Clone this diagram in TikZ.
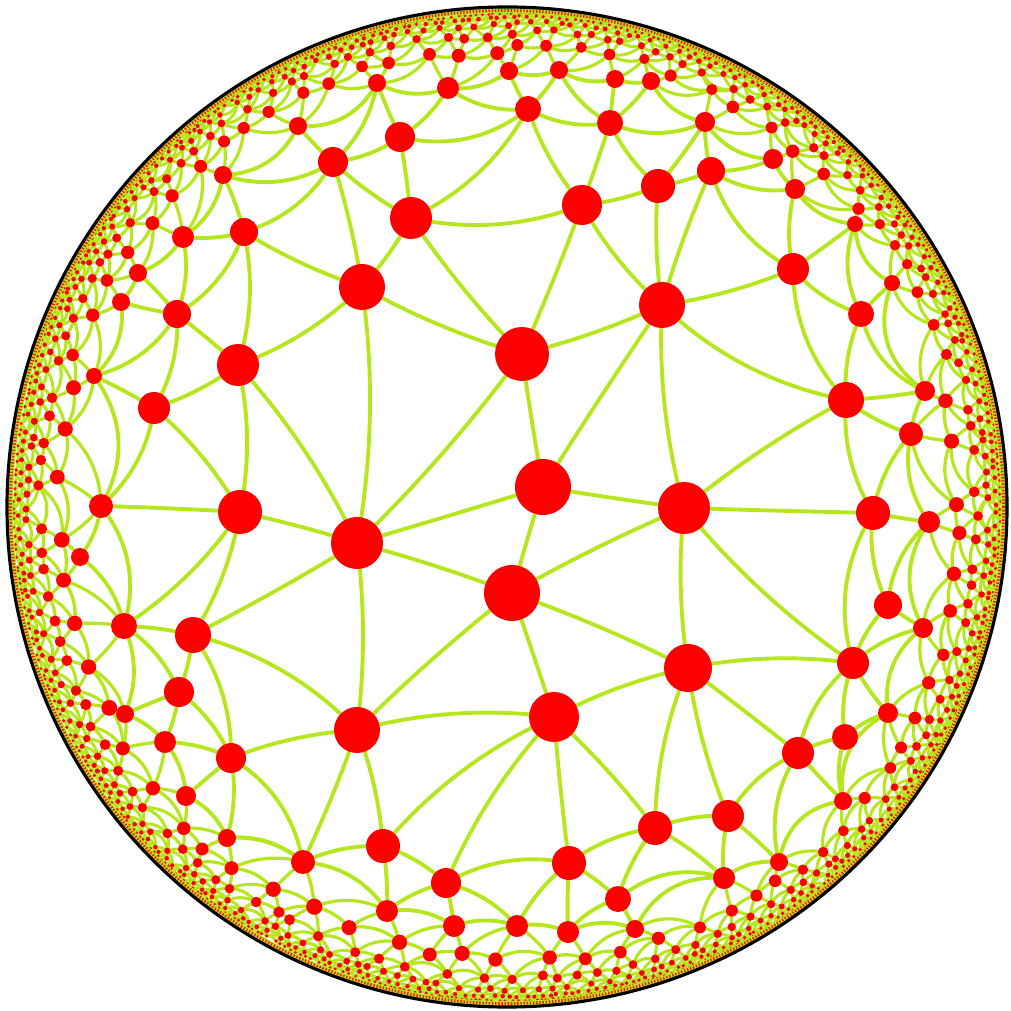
\documentclass[tikz,border=0pt]{standalone}
\usepackage{tikz}
\definecolor{lime}{RGB}{182,230,30}
\definecolor{dotred}{RGB}{255,0,0}
\tikzset{
  ball/.style={circle, fill=dotred, draw=none, inner sep=0pt},
  link/.style={draw=lime, line width=1.1pt}
}
\newcommand{\ringstep}{0.5}
\newcommand{\edgelen}{0.9}
\newcount\kidno
\newcount\vcount

% a point of the disk: x, y, angle, distance from the centre, dot size
\newcommand{\storept}[4]{%
  \expandafter\xdef\csname X@#1\endcsname{\fpeval{round(#2,6)}}%
  \expandafter\xdef\csname Y@#1\endcsname{\fpeval{round(#3,6)}}%
  \expandafter\xdef\csname T@#1\endcsname{\fpeval{atand(#3,#2)+360*(atand(#3,#2)<0)}}%
  \expandafter\xdef\csname D@#1\endcsname{\fpeval{ln((1+sqrt((#2)^2+(#3)^2))/(1-sqrt((#2)^2+(#3)^2)))}}%
  \expandafter\xdef\csname S@#1\endcsname{\fpeval{round(#4,4)}}%
  \global\advance\vcount by 1
  \expandafter\xdef\csname V@\the\vcount\endcsname{#1}%
  \coordinate (#1) at (\csname X@#1\endcsname,\csname Y@#1\endcsname);
}
% a vertex given in pixels of the 1010 wide picture
\newcommand{\hnode}[4]{\storept{#1}{(#2-507)/500}{(507-#3)/500}{#4*0.2}}
% geodesic of the Poincare disk between two named vertices
\newcommand{\geo}[3][]{%
  \edef\gxa{\csname X@#2\endcsname}\edef\gya{\csname Y@#2\endcsname}%
  \edef\gxb{\csname X@#3\endcsname}\edef\gyb{\csname Y@#3\endcsname}%
  \edef\gdt{\fpeval{(\gxa)*(\gyb)-(\gya)*(\gxb)}}%
  \edef\gaa{\fpeval{(1+(\gxa)^2+(\gya)^2)/2}}%
  \edef\gab{\fpeval{(1+(\gxb)^2+(\gyb)^2)/2}}%
  \edef\gwx{\fpeval{((\gxa)+(\gxb))/2*(\gdt)-((\gaa)*(\gyb)-(\gab)*(\gya))}}%
  \edef\gwy{\fpeval{((\gya)+(\gyb))/2*(\gdt)-((\gxa)*(\gab)-(\gxb)*(\gaa))}}%
  \edef\gff{\fpeval{(((\gxa)-(\gxb))^2+((\gya)-(\gyb))^2)/4*(\gdt)/((\gwx)^2+(\gwy)^2)}}%
  \edef\gkx{\fpeval{((\gxa)+(\gxb))/2+(\gff)*(\gwx)}}%
  \edef\gky{\fpeval{((\gya)+(\gyb))/2+(\gff)*(\gwy)}}%
  \edef\gca{\fpeval{round(((\gxa)+2*(\gkx))/3,5)}}%
  \edef\gcb{\fpeval{round(((\gya)+2*(\gky))/3,5)}}%
  \edef\gcc{\fpeval{round(((\gxb)+2*(\gkx))/3,5)}}%
  \edef\gcd{\fpeval{round(((\gyb)+2*(\gky))/3,5)}}%
  \draw[link,#1] (#2) .. controls (\gca,\gcb) and (\gcc,\gcd) .. (#3);
}
% next ring of vertices outside ring #1
\newcommand{\grow}[1]{%
  \edef\rk{\the\numexpr#1+1\relax}%
  \edef\last{\the\numexpr\csname N@#1\endcsname-1\relax}%
  \global\kidno=0
  \foreach \gi in {0,...,\last}{%
    \edef\nx{\ifnum\gi=\last\space 0\else\the\numexpr\gi+1\relax\fi}%
    \edef\pa{\csname R@#1@\gi\endcsname}%
    \edef\pb{\csname R@#1@\nx\endcsname}%
    \edef\ta{\csname T@\pa\endcsname}%
    \edef\gap{\fpeval{(\csname T@\pb\endcsname)-(\ta)}}%
    \edef\gap{\fpeval{(\gap)-360*floor((\gap)/360)}}%
    \edef\dc{\fpeval{((\csname D@\pa\endcsname)+(\csname D@\pb\endcsname))/2+\ringstep}}%
    \edef\mm{\fpeval{max(1,min(3,round((exp(\dc)-exp(-(\dc)))/2*(\gap)*pi/180/\edgelen)))}}%
    \foreach \gj in {1,...,\mm}{%
      \edef\cn{g\rk-\the\kidno}%
      \edef\hz{\fpeval{sin(\rk*7.13+\the\kidno*12.9898)*43758.5453}}%
      \edef\ha{\fpeval{(\hz)-floor(\hz)}}%
      \edef\hz{\fpeval{sin(\rk*3.71+\the\kidno*78.233)*24634.6345}}%
      \edef\hb{\fpeval{(\hz)-floor(\hz)}}%
      \edef\tc{\fpeval{(\ta)+(\gap)*(\gj-0.5+0.5*((\ha)-0.5))/\mm}}%
      \edef\dk{\fpeval{(\dc)+0.16*((\hb)-0.5)}}%
      \edef\rr{\fpeval{(exp(\dk)-1)/(exp(\dk)+1)}}%
      \storept{\cn}{(\rr)*cosd(\tc)}{(\rr)*sind(\tc)}{5.6*(1-(\rr)^2)^0.8}%
      \edef\lw{\fpeval{1.1*(1-(\rr)^2)^0.1}pt}%
      \xdef\lastlw{\lw}%
      \ifnum\numexpr2*\gj-2\relax<\mm\relax \geo[line width=\lw]{\pa}{\cn}\fi
      \ifnum\numexpr2*\gj\relax<\mm\relax\else \geo[line width=\lw]{\pb}{\cn}\fi
      \ifnum\kidno>0 \edef\prv{g\rk-\the\numexpr\kidno-1\relax}\geo[line width=\lw]{\prv}{\cn}\fi
      \expandafter\xdef\csname R@\rk @\the\kidno\endcsname{\cn}%
      \global\advance\kidno by 1
    }%
  }%
  \expandafter\xdef\csname N@\rk\endcsname{\the\kidno}%
  \edef\prv{g\rk-\the\numexpr\kidno-1\relax}%
  \geo[line width=\lastlw]{g\rk-0}{\prv}%
}

\begin{document}
\begin{tikzpicture}[x=5cm, y=5cm]
  \useasboundingbox (-1.014,-1.008) rectangle (1.006,1.014);

  % large vertices near the centre
  \hnode{a}{543}{487}{28}
  \hnode{b}{512}{593}{28}
  \hnode{c}{522}{354}{27}
  \hnode{d}{357}{543}{26}
  \hnode{e}{684}{508}{26}
  \hnode{f}{688}{668}{24}
  \hnode{g}{554}{717}{25}
  \hnode{h}{357}{730}{23}
  \hnode{i}{240}{512}{22}
  \hnode{j}{662}{305}{23}
  \hnode{k}{362}{287}{23}
  \hnode{l}{238}{365}{21}
  \hnode{m}{411}{218}{21}
  \hnode{n}{582}{205}{20}
  \hnode{o}{193}{635}{18}
  \hnode{p}{154}{408}{16}
  \hnode{q}{846}{400}{18}
  \hnode{r}{873}{513}{17}
  \hnode{s}{853}{663}{16}
  \hnode{t}{798}{753}{16}
  \hnode{u}{793}{269}{16}
  \hnode{v}{658}{186}{17}
  \hnode{w}{655}{828}{17}
  \hnode{x}{728}{816}{16}
  \hnode{y}{569}{863}{17}
  \hnode{z}{383}{846}{17}

  % middle vertices
  \hnode{m1}{303}{862}{12}
  \hnode{m2}{446}{883}{15}
  \hnode{m3}{618}{899}{13}
  \hnode{m4}{231}{758}{15}
  \hnode{m5}{179}{692}{15}
  \hnode{m6}{165}{742}{11}
  \hnode{m7}{124}{626}{13}
  \hnode{m8}{101}{506}{12}
  \hnode{m9}{244}{232}{14}
  \hnode{m10}{177}{314}{14}
  \hnode{m11}{333}{162}{15}
  \hnode{m12}{400}{137}{15}
  \hnode{m13}{448}{88}{11}
  \hnode{m14}{528}{109}{13}
  \hnode{m15}{610}{123}{13}
  \hnode{m16}{711}{171}{14}
  \hnode{m17}{705}{122}{10}
  \hnode{m18}{773}{159}{10}
  \hnode{m19}{795}{189}{10}
  \hnode{m20}{861}{314}{13}
  \hnode{m21}{911}{434}{12}
  \hnode{m22}{925}{391}{10}
  \hnode{m23}{929}{522}{11}
  \hnode{m24}{888}{605}{14}
  \hnode{m25}{923}{628}{10}
  \hnode{m26}{845}{737}{13}
  \hnode{m27}{888}{713}{10}
  \hnode{m28}{724}{878}{11}
  \hnode{m29}{779}{862}{9}
  \hnode{m30}{843}{801}{9}
  \hnode{m31}{387}{911}{11}
  \hnode{m32}{454}{926}{11}
  \hnode{m33}{517}{926}{11}
  \hnode{m34}{568}{932}{11}
  \hnode{m35}{635}{929}{9}
  \hnode{m36}{186}{796}{10}
  \hnode{m37}{125}{714}{9}
  \hnode{m38}{227}{838}{9}
  \hnode{m39}{80}{557}{9}
  \hnode{m41}{94}{376}{8}
  \hnode{m42}{138}{273}{9}
  \hnode{m43}{121}{302}{9}
  \hnode{m44}{183}{237}{11}
  \hnode{m45}{223}{175}{9}
  \hnode{m46}{298}{126}{9}
  \hnode{m47}{615}{79}{9}
  \hnode{m48}{559}{70}{9}
  \hnode{m49}{509}{71}{9}
  \hnode{m50}{377}{83}{9}
  \hnode{m51}{651}{81}{9}
  \hnode{m52}{892}{283}{8}
  \hnode{m53}{855}{224}{8}

  % links between them
  \foreach \na/\nb in {a/b,a/c,a/d,a/e,a/j,b/d,b/e,b/f,b/g,b/h,c/d,c/k,c/j,c/n,c/m,
    d/i,d/l,d/k,d/h,d/o,e/f,e/j,e/q,e/r,e/s,f/g,f/w,f/x,f/t,f/s,
    g/h,g/w,g/y,g/m2,g/z,h/z,h/o,h/m4,h/m1,i/l,i/p,i/m8,i/o,i/m7,
    j/n,j/v,j/u,j/q,j/m16,k/l,k/m,k/m11,k/m9,l/p,l/m9,l/m10,
    m/n,m/m12,m/m14,m/m11,n/v,n/m15,n/m14,o/m7,o/m5,o/m4,p/m10,p/m41,p/m8,
    q/u,q/r,q/m20,q/m22,q/m21,r/m21,r/m23,r/m24,r/s,
    s/m24,s/t,s/m26,s/m27,s/m25,t/x,t/m26,t/m30,t/m29,
    u/m16,u/m19,u/m53,u/m20,v/m15,v/m16,v/m17,w/x,w/y,w/m3,w/m28,x/m28,x/m29,
    y/m2,y/m3,y/m33,y/m34,z/m2,z/m31,z/m1,
    m1/m4,m1/m38,m2/m31,m2/m32,m2/m33,m3/m34,m3/m35,m3/m28,
    m4/m5,m4/m6,m4/m36,m4/m38,m5/m6,m5/m37,m5/m7,m7/m8,
    m9/m11,m9/m10,m9/m44,m9/m45,m10/m44,m10/m42,m10/m43,m10/m41,
    m11/m12,m11/m45,m11/m46,m11/m50,m12/m13,m12/m50,m12/m14,m13/m14,
    m14/m49,m14/m48,m14/m15,m15/m47,m15/m51,m15/m48,m15/m17,
    m16/m17,m16/m18,m16/m19,m20/m52,m20/m53,m20/m22,
    m23/m24,m24/m25,m26/m27,m26/m30}{\geo{\na}{\nb}}

  % outer cycle of the hand-placed part
  \global\kidno=0
  \foreach \nd in {m21,m22,m52,m53,m19,m18,m17,m51,m47,m48,m49,m13,m50,m46,m45,m44,
    m42,m43,m41,m8,m39,m7,m37,m6,m36,m38,m1,m31,m32,m33,m34,m35,m28,m29,m30,m27,m25,m23}{%
    \ifnum\kidno>0 \edef\prv{\csname R@0@\the\numexpr\kidno-1\relax\endcsname}\geo{\prv}{\nd}\fi
    \expandafter\xdef\csname R@0@\the\kidno\endcsname{\nd}%
    \global\advance\kidno by 1
  }
  \expandafter\xdef\csname N@0\endcsname{\the\kidno}
  \geo{m23}{m21}

  % rings towards the rim
  \grow{0}
  \grow{1}
  \grow{2}
  \grow{3}
  \grow{4}

  % the red vertices on top of the links
  \edef\vtot{\the\vcount}
  \foreach \vi in {1,...,\vtot}{%
    \edef\vn{\csname V@\vi\endcsname}%
    \node[ball, minimum size=\csname S@\vn\endcsname mm] (\vn-o) at (\vn) {};
  }

  % rim
  \fill[lime, even odd rule] (0,0) circle (1) (0,0) circle (0.988);
  \draw[dotred!85!orange, line width=0.8pt, dash pattern=on 0.4pt off 0.5pt] (0,0) circle (0.993);
  \draw[line width=0.9pt] (0,0) circle (1);
\end{tikzpicture}
\end{document}
